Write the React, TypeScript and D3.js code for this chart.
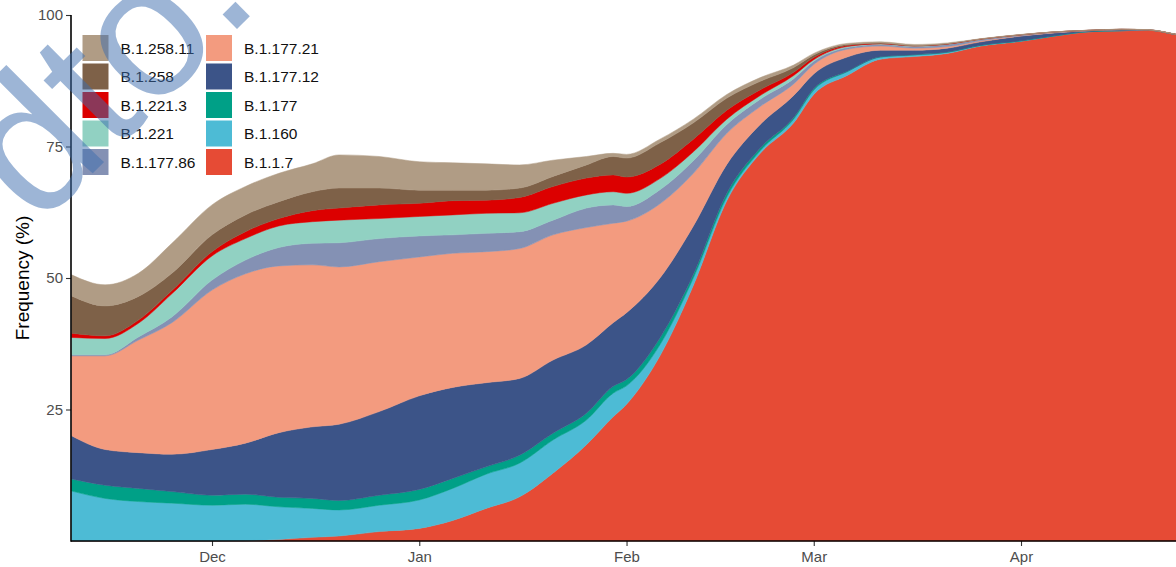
import * as d3 from 'd3';
import { useRef, useEffect } from 'react';

// sampling dates, roughly every 5 days
const dates = [
  '2020-11-10', '2020-11-15', '2020-11-20', '2020-11-25', '2020-12-01', '2020-12-06',
  '2020-12-11', '2020-12-16', '2020-12-20', '2020-12-26', '2021-01-01', '2021-01-06',
  '2021-01-11', '2021-01-16', '2021-01-21', '2021-01-26', '2021-01-30', '2021-02-01',
  '2021-02-06', '2021-02-11', '2021-02-16', '2021-02-21', '2021-02-26', '2021-03-01',
  '2021-03-06', '2021-03-11', '2021-03-16', '2021-03-21', '2021-03-26', '2021-04-01',
  '2021-04-06', '2021-04-11', '2021-04-16', '2021-04-20', '2021-04-24', '2021-04-27',
];

// stacking order, bottom to top
const lineages = [
  'B.1.1.7', 'B.1.160', 'B.1.177', 'B.1.177.12', 'B.1.177.21',
  'B.1.177.86', 'B.1.221', 'B.1.221.3', 'B.1.258', 'B.1.258.11',
];
const colors = [
  '#E64B35', '#4DBBD5', '#00A087', '#3C5488', '#F39B7F',
  '#8491B4', '#91D1C2', '#DC0000', '#7E6148', '#B09C85',
];

// frequencies (%)
const b117 = [0, 0, 0, 0, 0, 0.05, 0.3, 0.7, 0.95, 1.8, 2.4, 3.9, 6.2, 8.4, 12.9, 18.3, 23.6, 26, 35.2, 48.6, 64.7, 73.7, 79.5, 84.9, 88.5, 91.6, 92.1, 92.7, 94.1, 95.0, 96.0, 96.8, 97.0, 97.1, 96.3, 95.5];
const b1160 = [9.5, 8.1, 7.5, 7.2, 6.8, 6.95, 6.2, 5.5, 4.95, 5.0, 5.4, 6.1, 6.5, 6.4, 6.3, 4.7, 4.5, 3.5, 2.1, 1.4, 0.7, 0.5, 0.7, 0.8, 0.7, 0.4, 0.3, 0.2, 0.1, 0.05, 0.02, 0.02, 0.02, 0.01, 0.01, 0.01];
const b1177 = [2.3, 2.5, 2.5, 2.2, 1.9, 1.9, 1.8, 1.9, 1.8, 1.9, 2.0, 1.9, 1.4, 1.5, 1.3, 1.3, 1.3, 1.2, 1.3, 0.7, 0.7, 0.5, 0.3, 0.3, 0.1, 0.05, 0.05, 0.05, 0.05, 0.05, 0.03, 0.02, 0.01, 0.01, 0.01, 0.01];
const b117712 = [8.2, 6.8, 6.8, 7.1, 8.7, 9.7, 12.3, 13.6, 14.5, 15.9, 17.8, 17.3, 16.0, 14.6, 13.9, 13.0, 12.1, 12.7, 11.4, 9.2, 5.5, 4.5, 4.2, 2.8, 2.7, 1.25, 0.85, 0.75, 0.65, 0.9, 0.55, 0.16, 0.17, 0.03, 0.02, 0.02];
const b117721 = [15.2, 17.8, 21.4, 25.0, 30.3, 32.2, 31.7, 30.8, 29.9, 28.5, 26.4, 25.5, 24.9, 24.7, 23.8, 22.3, 18.9, 17.4, 14.1, 10.0, 5.9, 3.4, 2.2, 1.8, 1.5, 0.8, 0.4, 0.3, 0.2, 0.05, 0.05, 0.02, 0.02, 0.01, 0.01, 0.01];
const b117786 = [0.2, 0.2, 0.6, 1.1, 1.9, 2.6, 3.5, 4.1, 4.6, 4.4, 4.0, 3.5, 3.5, 3.2, 2.8, 3.7, 3.5, 2.8, 2.7, 2.4, 1.7, 1.4, 1.0, 0.6, 0.3, 0.3, 0.3, 0.4, 0.25, 0.15, 0.1, 0.04, 0.04, 0.01, 0.01, 0.01];
const b1221 = [3.3, 3.1, 2.6, 4.4, 4.6, 4.1, 4.1, 4.1, 4.3, 3.8, 3.7, 3.8, 3.8, 3.6, 3.2, 2.5, 2.5, 2.5, 2.1, 1.7, 1.0, 0.7, 0.6, 0.3, 0.2, 0.1, 0.1, 0.05, 0.05, 0.02, 0.02, 0.01, 0.01, 0, 0, 0];
const b12213 = [0.8, 0.5, 0.6, 0.6, 0.8, 1.3, 1.4, 2.1, 2.3, 2.6, 2.5, 2.7, 2.5, 2.9, 3.2, 3.2, 3.2, 3.1, 2.7, 2.4, 1.7, 1.1, 0.6, 0.4, 0.2, 0.1, 0.05, 0.05, 0.02, 0.02, 0.01, 0.01, 0.01, 0, 0, 0];
const b1258 = [7.1, 5.7, 4.5, 3.3, 3.2, 3.2, 3.2, 3.6, 3.8, 3.2, 2.5, 2.0, 1.9, 1.8, 1.9, 2.5, 3.5, 3.6, 4.1, 3.1, 2.3, 1.6, 0.9, 0.5, 0.2, 0.1, 0.05, 0.05, 0.03, 0.02, 0.01, 0.01, 0.01, 0, 0, 0];
const b125811 = [4.0, 4.0, 4.4, 5.7, 5.7, 5.4, 5.4, 5.3, 6.3, 6.0, 5.4, 5.2, 5.0, 4.4, 3.1, 1.6, 0.6, 0.7, 0.7, 0.7, 0.7, 0.7, 0.5, 0.3, 0.2, 0.2, 0.2, 0.15, 0.05, 0.04, 0.01, 0.01, 0.01, 0.05, 0.05, 0.05];

const series = [b117, b1160, b1177, b117712, b117721, b117786, b1221, b12213, b1258, b125811];

const yTicks = [25, 50, 75, 100];
const FONT = '"Liberation Sans", Arial, sans-serif';

export default function App() {
  const svgRef = useRef<SVGSVGElement>(null);
  const width = 1176;
  const height = 567;
  const margin = { top: 15, left: 71, bottom: 26 };

  useEffect(() => {
    const svg = d3.select(svgRef.current);
    svg.selectAll('*').remove();

    const parse = d3.timeParse('%Y-%m-%d');
    const rows = dates.map((d, i) => {
      const r: any = { date: parse(d) };
      lineages.forEach((k, j) => (r[k] = series[j][i]));
      return r;
    });

    // 6.686 px per day, Nov 10 sits on the y axis
    const xScale = d3
      .scaleTime()
      .domain([parse('2020-11-10'), parse('2021-04-27')])
      .range([71.6, 71.6 + 168 * 6.686]);
    const yScale = d3
      .scaleLinear()
      .domain([0, 100])
      .range([height - margin.bottom, margin.top]);

    const stacked = d3.stack().keys(lineages)(rows);
    const area = d3
      .area<any>()
      .curve(d3.curveMonotoneX)
      .x((d) => xScale(d.data.date))
      .y0((d) => yScale(d[0]))
      .y1((d) => yScale(d[1]));

    svg
      .append('g')
      .selectAll('path')
      .data(stacked)
      .join('path')
      .attr('d', area)
      .attr('fill', (d, i) => colors[i])
      .attr('stroke', (d, i) => colors[i])
      .attr('stroke-width', 0.5);

    // x axis
    const xAxis = d3
      .axisBottom(xScale)
      .ticks(d3.timeMonth.every(1))
      .tickFormat(d3.timeFormat('%b') as any)
      .tickSize(5)
      .tickPadding(5)
      .tickSizeOuter(0);
    const gx = svg
      .append('g')
      .attr('transform', `translate(0, ${height - margin.bottom})`)
      .call(xAxis);
    gx.select('.domain').remove();
    gx.selectAll('line').attr('stroke', '#333').attr('stroke-width', 1.1);
    gx.selectAll('text')
      .attr('fill', '#4D4D4D')
      .attr('font-size', 15)
      .attr('font-family', FONT);
    svg
      .append('line')
      .attr('x1', margin.left)
      .attr('x2', width)
      .attr('y1', height - margin.bottom)
      .attr('y2', height - margin.bottom)
      .attr('stroke', '#000')
      .attr('stroke-width', 1.6);

    // y axis
    const yAxis = d3
      .axisLeft(yScale)
      .tickValues(yTicks)
      .tickSize(5)
      .tickPadding(3)
      .tickSizeOuter(0);
    const gy = svg.append('g').attr('transform', `translate(${margin.left}, 0)`).call(yAxis);
    gy.select('.domain').remove();
    gy.selectAll('line').attr('stroke', '#333').attr('stroke-width', 1.1);
    gy.selectAll('text')
      .attr('fill', '#4D4D4D')
      .attr('font-size', 15)
      .attr('font-family', FONT);
    svg
      .append('line')
      .attr('x1', margin.left)
      .attr('x2', margin.left)
      .attr('y1', margin.top)
      .attr('y2', height - margin.bottom + 0.8)
      .attr('stroke', '#000')
      .attr('stroke-width', 1.6);

    svg
      .append('text')
      .attr('transform', `translate(29, ${(margin.top + height - margin.bottom) / 2}) rotate(-90)`)
      .attr('text-anchor', 'middle')
      .attr('font-size', 19)
      .attr('font-family', FONT)
      .attr('fill', '#000')
      .text('Frequency (%)');

    // legend, two columns of five
    const legendOrder = lineages.slice().reverse();
    const legend = svg
      .append('g')
      .selectAll('g')
      .data(legendOrder)
      .join('g')
      .attr('transform', (d, i) => `translate(${i < 5 ? 82.5 : 206}, ${35 + (i % 5) * 28.5})`);
    legend
      .append('rect')
      .attr('width', 26)
      .attr('height', 26)
      .attr('fill', (d) => colors[lineages.indexOf(d)]);
    legend
      .append('text')
      .attr('x', 38)
      .attr('y', 13)
      .attr('dy', '0.36em')
      .attr('font-size', 15.5)
      .attr('font-family', FONT)
      .attr('fill', '#111')
      .text((d) => d);

    // watermark
    svg
      .append('text')
      .attr('transform', 'translate(262, 4) rotate(-45)')
      .attr('text-anchor', 'end')
      .attr('font-size', 190)
      .attr('font-family', FONT)
      .attr('fill', '#3D6EAF')
      .attr('opacity', 0.5)
      .text('dto.');
  }, []);

  return (
    <svg
      ref={svgRef}
      width={width}
      height={height}
      style={{ position: 'absolute', left: 0, top: 0, background: '#fff' }}
    />
  );
}
